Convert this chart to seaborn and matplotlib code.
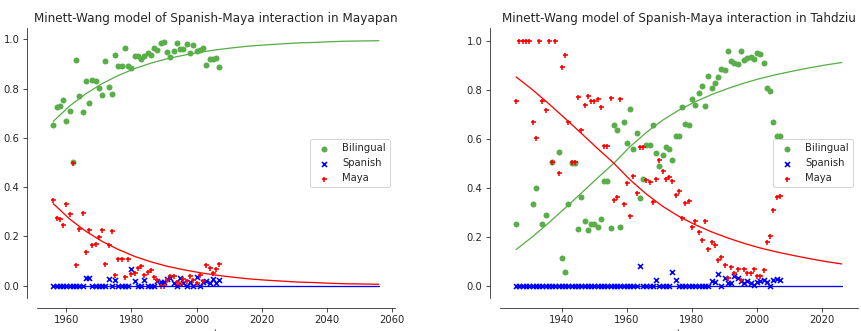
import numpy as np
import matplotlib
matplotlib.use("Agg")
import matplotlib.pyplot as plt
import seaborn as sns

# Mayapan observations (one point per year)
may_years = np.arange(1956, 2008)
may_bilingual = [0.652, 0.725, 0.729, 0.752, 0.668, 0.707, 0.501, 0.915, 0.768, 0.703,
                 0.830, 0.742, 0.836, 0.829, 0.803, 0.775, 0.910, 0.808, 0.778, 0.936,
                 0.890, 0.890, 0.964, 0.893, 0.884, 0.930, 0.930, 0.919, 0.934, 0.944,
                 0.937, 0.964, 0.958, 0.985, 0.988, 0.948, 0.927, 0.951, 0.986, 0.962,
                 0.962, 0.979, 0.945, 0.975, 0.951, 0.958, 0.963, 0.897, 0.921, 0.921,
                 0.922, 0.888]
may_spanish = [0, 0, 0, 0, 0, 0, 0, 0, 0, 0,
               0.033, 0.033, 0, 0, 0, 0, 0, 0.027, 0, 0.022,
               0, 0, 0, 0, 0.068, 0.019, 0, 0, 0.022, 0,
               0, 0, 0.019, 0.016, 0.014, 0.027, 0.033, 0.011, 0, 0.030,
               0.010, 0, 0.014, 0, 0.036, 0, 0.017, 0.019, 0.010, 0.027,
               0.010, 0.023]
may_maya = [0.348, 0.275, 0.271, 0.248, 0.332, 0.293, 0.499, 0.085, 0.232, 0.297,
            0.137, 0.225, 0.164, 0.171, 0.197, 0.225, 0.090, 0.165, 0.222, 0.042,
            0.110, 0.110, 0.036, 0.107, 0.048, 0.051, 0.070, 0.081, 0.044, 0.056,
            0.063, 0.036, 0.023, 0.0, 0.0, 0.025, 0.040, 0.038, 0.014, 0.008,
            0.028, 0.021, 0.041, 0.025, 0.013, 0.042, 0.020, 0.084, 0.070, 0.052,
            0.068, 0.089]

# Mayapan model curves (read every 5 years)
may_t = np.arange(1956, 2057, 5)
may_fit_bilingual = [0.667, 0.729, 0.779, 0.820, 0.853, 0.881, 0.903, 0.921, 0.935, 0.947,
                     0.957, 0.965, 0.972, 0.977, 0.981, 0.985, 0.987, 0.990, 0.992, 0.993, 0.994]
may_fit_spanish = [0.0] * 21
may_fit_maya = [0.333, 0.271, 0.221, 0.180, 0.147, 0.119, 0.097, 0.079, 0.065, 0.053,
                0.043, 0.035, 0.028, 0.023, 0.019, 0.015, 0.013, 0.010, 0.008, 0.007, 0.006]

# Tahdziu observations
tah_years = np.arange(1926, 2008)
tah_bilingual = [0.252, np.nan, np.nan, np.nan, np.nan, 0.334, 0.399, np.nan, 0.252, 0.288,
                 np.nan, 0.503, np.nan, 0.547, 0.114, 0.058, 0.334, 0.500, 0.500, 0.230,
                 0.363, 0.263, 0.227, 0.252, 0.252, 0.240, 0.273, 0.429, 0.429, 0.237,
                 0.654, 0.637, 0.238, 0.668, 0.582, 0.720, 0.557, 0.623, 0.360, 0.435,
                 0.573, 0.576, 0.658, 0.543, 0.490, 0.535, 0.568, 0.560, 0.512, 0.612,
                 0.612, 0.730, 0.662, 0.654, 0.762, 0.737, 0.785, 0.814, 0.734, 0.855,
                 0.806, 0.827, 0.850, 0.884, 0.881, 0.956, 0.917, 0.910, 0.906, 0.958,
                 0.921, 0.931, 0.934, 0.927, 0.949, 0.945, 0.911, 0.806, 0.796, 0.670,
                 0.612, 0.612]
tah_spanish = [0, 0, 0, 0, 0, 0, 0, 0, 0, 0,
               0, 0, 0, 0, 0, 0, 0, 0, 0, 0,
               0, 0, 0, 0, 0, 0, 0, 0, 0, 0,
               0, 0, 0, 0, 0, 0, 0, 0, 0.079, 0,
               0, 0, 0, 0.022, 0, 0, 0, 0, 0.058, 0.022,
               0, 0, 0, 0, 0, 0, 0, 0, 0, 0,
               0.020, 0.015, 0.046, 0, 0.030, 0.010, 0.010, 0.040, 0.030, 0.020,
               0.010, 0.020, 0.010, 0.005, 0.015, 0.020, 0.025, 0.015, 0, 0.022,
               0.028, 0.025]
tah_maya = [0.755, 1.0, 1.0, 1.0, 1.0, 0.669, 0.602, 1.0, 0.755, 0.716,
            1.0, 0.503, 1.0, 0.460, 0.893, 0.942, 0.669, 0.503, 0.503, 0.771,
            0.637, 0.737, 0.773, 0.755, 0.755, 0.763, 0.729, 0.572, 0.572, 0.767,
            0.350, 0.364, 0.763, 0.335, 0.418, 0.284, 0.446, 0.377, 0.565, 0.568,
            0.432, 0.425, 0.343, 0.436, 0.512, 0.467, 0.436, 0.443, 0.429, 0.371,
            0.388, 0.277, 0.339, 0.346, 0.238, 0.263, 0.219, 0.186, 0.266, 0.150,
            0.177, 0.166, 0.104, 0.116, 0.086, 0.030, 0.075, 0.053, 0.069, 0.025,
            0.069, 0.053, 0.053, 0.069, 0.039, 0.039, 0.066, 0.180, 0.204, 0.309,
            0.364, 0.367]

# Tahdziu model curves
tah_t = np.arange(1926, 2027, 5)
tah_fit_bilingual = [0.148, 0.200, 0.257, 0.317, 0.378, 0.440, 0.500, 0.568, 0.626, 0.676,
                     0.717, 0.751, 0.780, 0.805, 0.827, 0.846, 0.862, 0.876, 0.889, 0.901, 0.911]
tah_fit_spanish = [0.0] * 21
tah_fit_maya = [0.852, 0.800, 0.743, 0.683, 0.622, 0.560, 0.500, 0.432, 0.374, 0.324,
                0.283, 0.249, 0.220, 0.195, 0.173, 0.154, 0.138, 0.124, 0.111, 0.099, 0.089]

GREEN = "#5aae4a"
BLUE = "#0000ff"
RED = "#ff0000"


# one panel per town
def town_plot(ax, years, bil, spa, maya, t, f_bil, f_spa, f_maya, title):
    sns.scatterplot(x=years, y=bil, ax=ax, color=GREEN, marker="o", s=36,
                    linewidth=0, label="Bilingual")
    sns.scatterplot(x=years, y=spa, ax=ax, color=BLUE, marker="x", s=25,
                    linewidth=1.6, label="Spanish")
    sns.scatterplot(x=years, y=maya, ax=ax, color=RED, marker="+", s=25,
                    linewidth=1.6, label="Maya")
    sns.lineplot(x=t, y=f_bil, ax=ax, color=GREEN, lw=1.3, legend=False)
    sns.lineplot(x=t, y=f_spa, ax=ax, color=BLUE, lw=1.3, legend=False)
    sns.lineplot(x=t, y=f_maya, ax=ax, color=RED, lw=1.3, legend=False)
    ax.set_title(title, fontsize=12)
    ax.set_xlabel("t", fontsize=10)
    ax.set_yticks([0.0, 0.2, 0.4, 0.6, 0.8, 1.0])
    ax.legend(loc="center right", frameon=True, fontsize=10, scatterpoints=1)
    sns.despine(ax=ax, offset=10)
    return ax


sns.set_style("ticks")
plt.rcParams["font.family"] = ["DejaVu Sans"]

fig, (ax0, ax1) = plt.subplots(1, 2, figsize=(861 / 72, 331 / 72), dpi=72)
fig.subplots_adjust(left=0.043, right=0.9965, bottom=0.0997, top=0.914, wspace=0.293)

town_plot(ax0, may_years, may_bilingual, may_spanish, may_maya,
          may_t, may_fit_bilingual, may_fit_spanish, may_fit_maya,
          "Minett-Wang model of Spanish-Maya interaction in Mayapan")
ax0.set_xticks([1960, 1980, 2000, 2020, 2040, 2060])

town_plot(ax1, tah_years, tah_bilingual, tah_spanish, tah_maya,
          tah_t, tah_fit_bilingual, tah_fit_spanish, tah_fit_maya,
          "Minett-Wang model of Spanish-Maya interaction in Tahdziu")
ax1.set_xticks([1940, 1960, 1980, 2000, 2020])

for ax in (ax0, ax1):
    ax.tick_params(labelsize=10, length=4)

fig.savefig("out.png", dpi=72)
